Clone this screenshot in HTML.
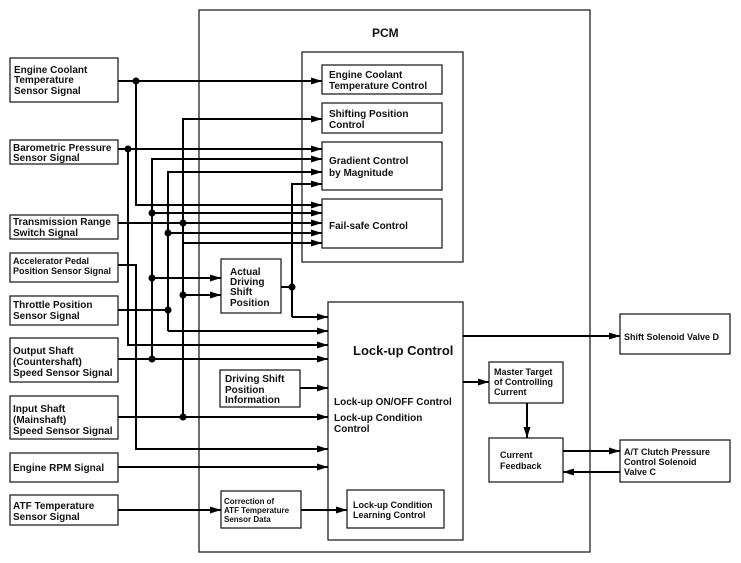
<!DOCTYPE html>
<html><head><meta charset="utf-8"><style>
html,body{margin:0;padding:0;background:#fff;}
svg{display:block;}
text{font-family:"Liberation Sans",Arial,sans-serif;font-weight:bold;fill:#111;}
</style></head><body>
<svg width="741" height="563" viewBox="0 0 741 563" xmlns="http://www.w3.org/2000/svg">
<defs>
<marker id="a" markerUnits="userSpaceOnUse" markerWidth="12" markerHeight="8" refX="11" refY="4" orient="auto">
<path d="M0,0.5 L11,4 L0,7.5 Z" fill="#000"/></marker>
</defs>
<g fill="none" stroke="#222" stroke-width="1.3">
<rect x="199" y="10" width="391" height="542"/>
<rect x="302" y="52" width="161" height="210"/>
<rect x="322" y="65" width="120" height="29"/>
<rect x="322" y="103" width="120" height="30"/>
<rect x="322" y="142" width="120" height="48"/>
<rect x="322" y="199" width="120" height="49"/>
<rect x="328" y="302" width="135" height="238"/>
<rect x="347" y="490" width="97" height="38"/>
<rect x="221" y="259" width="60" height="54"/>
<rect x="220" y="370" width="80" height="37"/>
<rect x="221" y="491" width="80" height="37"/>
<rect x="489" y="362" width="74" height="41"/>
<rect x="489" y="438" width="74" height="44"/>
<rect x="620" y="314" width="110" height="40"/>
<rect x="620" y="440" width="110" height="42"/>
<rect x="10" y="58" width="108" height="44"/>
<rect x="10" y="140" width="108" height="24"/>
<rect x="10" y="215" width="108" height="24"/>
<rect x="10" y="253" width="108" height="29"/>
<rect x="10" y="296" width="108" height="29"/>
<rect x="10" y="338" width="108" height="44"/>
<rect x="10" y="396" width="108" height="43"/>
<rect x="10" y="453" width="108" height="29"/>
<rect x="10" y="495" width="108" height="30"/>
</g>
<g fill="none" stroke="#000" stroke-width="2">
<path d="M118,81H322" marker-end="url(#a)"/>
<path d="M136,81V205H322" marker-end="url(#a)"/>
<path d="M183,417V119H322" marker-end="url(#a)"/>
<path d="M118,149H322" marker-end="url(#a)"/>
<path d="M128,149V345H328" marker-end="url(#a)"/>
<path d="M152,359V159H322" marker-end="url(#a)"/>
<path d="M168,331V172H322" marker-end="url(#a)"/>
<path d="M168,331H328" marker-end="url(#a)"/>
<path d="M292,317V184H322" marker-end="url(#a)"/>
<path d="M292,317H328" marker-end="url(#a)"/>
<path d="M281,287H292"/>
<path d="M152,213H322" marker-end="url(#a)"/>
<path d="M118,223H322" marker-end="url(#a)"/>
<path d="M168,233H322" marker-end="url(#a)"/>
<path d="M183,243H322" marker-end="url(#a)"/>
<path d="M118,265H136V449H328" marker-end="url(#a)"/>
<path d="M152,278H221" marker-end="url(#a)"/>
<path d="M183,295H221" marker-end="url(#a)"/>
<path d="M118,310H168"/>
<path d="M118,359H328" marker-end="url(#a)"/>
<path d="M300,388H328" marker-end="url(#a)"/>
<path d="M118,417H328" marker-end="url(#a)"/>
<path d="M118,467H328" marker-end="url(#a)"/>
<path d="M118,510H221" marker-end="url(#a)"/>
<path d="M301,510H347" marker-end="url(#a)"/>
<path d="M463,336H620" marker-end="url(#a)"/>
<path d="M463,382H489" marker-end="url(#a)"/>
<path d="M527,403V438" marker-end="url(#a)"/>
<path d="M563,451H620" marker-end="url(#a)"/>
<path d="M620,472H563" marker-end="url(#a)"/>
</g>
<g fill="#000">
<circle cx="136" cy="81" r="3.5"/><circle cx="128" cy="149" r="3.5"/>
<circle cx="152" cy="213" r="3.5"/><circle cx="183" cy="223" r="3.5"/>
<circle cx="168" cy="233" r="3.5"/><circle cx="152" cy="278" r="3.5"/>
<circle cx="183" cy="295" r="3.5"/><circle cx="292" cy="287" r="3.5"/>
<circle cx="168" cy="310" r="3.5"/><circle cx="152" cy="359" r="3.5"/>
<circle cx="183" cy="417" r="3.5"/>
</g>
<g font-size="10">
<text x="14" y="73">Engine Coolant</text><text x="14" y="83">Temperature</text><text x="14" y="94">Sensor Signal</text>
<text x="13" y="151">Barometric Pressure</text><text x="13" y="161">Sensor Signal</text>
<text x="13" y="225">Transmission Range</text><text x="13" y="236">Switch Signal</text>
<text x="13" y="308">Throttle Position</text><text x="13" y="319">Sensor Signal</text>
<text x="13" y="354">Output Shaft</text><text x="13" y="365">(Countershaft)</text><text x="13" y="376">Speed Sensor Signal</text>
<text x="13" y="412">Input Shaft</text><text x="13" y="423">(Mainshaft)</text><text x="13" y="434">Speed Sensor Signal</text>
<text x="13" y="471">Engine RPM Signal</text>
<text x="13" y="509">ATF Temperature</text><text x="13" y="520">Sensor Signal</text>
<text x="329" y="78">Engine Coolant</text><text x="329" y="89">Temperature Control</text>
<text x="329" y="117">Shifting Position</text><text x="329" y="128">Control</text>
<text x="329" y="164">Gradient Control</text><text x="329" y="176">by Magnitude</text>
<text x="329" y="229">Fail-safe Control</text>
<text x="230" y="275">Actual</text><text x="230" y="285">Driving</text><text x="230" y="295">Shift</text><text x="230" y="306">Position</text>
<text x="225" y="382">Driving Shift</text><text x="225" y="393">Position</text><text x="225" y="403">Information</text>
<text x="334" y="405">Lock-up ON/OFF Control</text>
<text x="334" y="421">Lock-up Condition</text><text x="334" y="432">Control</text>
</g>
<g font-size="9">
<text x="13" y="264">Accelerator Pedal</text><text x="13" y="274">Position Sensor Signal</text>
<text x="353" y="508">Lock-up Condition</text><text x="353" y="518">Learning Control</text>
<text x="494" y="375">Master Target</text><text x="494" y="385">of Controlling</text><text x="494" y="395">Current</text>
<text x="500" y="458">Current</text><text x="500" y="469">Feedback</text>
<text x="624" y="340">Shift Solenoid Valve D</text>
<text x="624" y="455">A/T Clutch Pressure</text><text x="624" y="465">Control Solenoid</text><text x="624" y="475">Valve C</text>
</g>
<g font-size="8">
<text x="224" y="504">Correction of</text><text x="224" y="513">ATF Temperature</text><text x="224" y="522">Sensor Data</text>
</g>
<text x="353" y="355" font-size="13">Lock-up Control</text>
<text x="372" y="37" font-size="12">PCM</text>
</svg>
</body></html>
